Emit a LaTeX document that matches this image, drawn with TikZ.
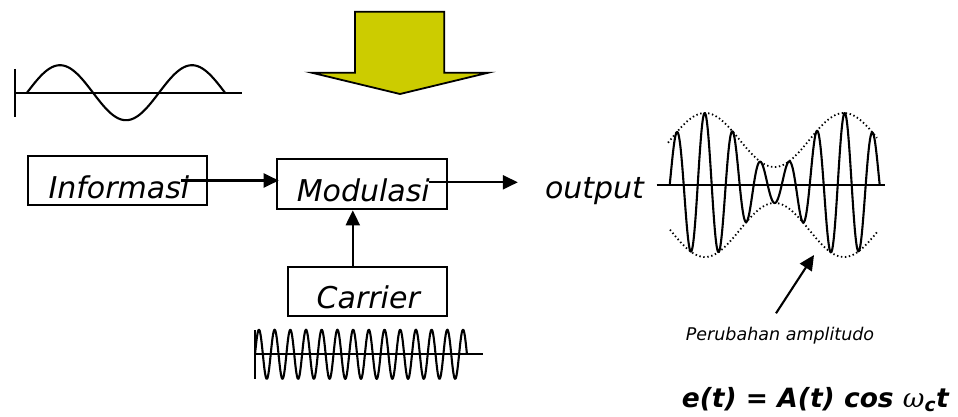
\documentclass[tikz,border=0pt]{standalone}
\usepackage{fontspec}
\setmainfont{DejaVu Sans}
\newfontfamily\omegafont{DejaVu Serif}
\usetikzlibrary{arrows.meta}
\definecolor{arrowyellow}{RGB}{204,204,0}
\begin{document}
\begin{tikzpicture}[x=1pt,y=-1pt,
  boxst/.style={draw,line width=2pt,inner sep=0pt},
  lbl/.style={inner sep=0pt,font=\fontsize{30}{32}\selectfont\itshape},
  arr/.style={line width=2.1pt,-{Triangle[length=15pt,width=14pt]}},
  wave/.style={line width=2.1pt,line join=round},
  env/.style={line width=1.8pt,dash pattern=on 1.4pt off 2.6pt}]
\useasboundingbox (0,0) rectangle (958,417);
% big yellow arrow
\draw[line width=1.8pt,fill=arrowyellow,line join=miter]
  (355,11.7) -- (444.3,11.7) -- (444.3,72.7) -- (488.3,72.7) -- (400,94)
  -- (311.7,72.7) -- (355,72.7) -- cycle;
% information sine wave
\draw[wave] (15,69) -- (15,117);
\draw[wave] (15,92.7) -- (241.7,92.7);
\draw[wave] plot[domain=27:225,samples=120,smooth] (\x,{92.7-27.5*sin((\x-27)/132*360)});
% boxes
\node[boxst,minimum width=179pt,minimum height=49pt] (infobox) at (117.8,180.5) {};
\node[lbl,anchor=base] (infotext) at (118.9,198.3) {Informasi};
\node[boxst,minimum width=170.6pt,minimum height=50pt] (modbox) at (362,184.3) {};
\node[lbl,anchor=base] (modtext) at (363.3,201.7) {Modulasi};
\node[boxst,minimum width=159pt,minimum height=49.3pt] (carbox) at (367.8,291.3) {};
\node[lbl,anchor=base] (cartext) at (368.3,308.3) {Carrier};
\node[lbl,anchor=base] (outtext) at (594.5,198) {output};
% connectors
\draw[arr] ([xshift=-27pt]infobox.east) -- ([xshift=3pt]infobox.east -| modbox.west);
\draw[arr] ([xshift=-19pt,yshift=2pt]modbox.east) -- ([xshift=-27pt,yshift=2pt]modbox.east -| outtext.west);
\draw[arr] ([xshift=-15pt]carbox.north) -- ([xshift=-15pt]carbox.north |- modbox.south);
% carrier wave
\draw[wave] (255,330) -- (255,379.3);
\draw[wave] (255,354.3) -- (483.3,354.3);
\draw[wave] plot[domain=255:467,samples=400,smooth] (\x,{354.3-24.6*sin((\x-255)/15.7*360)});
% AM wave
\draw[wave] (656.7,185) -- (885,185);
\draw[wave] plot[domain=669.7:879.7,samples=500,smooth]
  (\x,{185-(45+27*cos((\x-705)/139*360))*sin((\x-669.7)/28*360)});
\draw[env] plot[domain=668:877,samples=100,smooth] (\x,{185-(45+27*cos((\x-705)/139*360))});
\draw[env] plot[domain=670:878,samples=100,smooth] (\x,{185+(45+27*cos((\x-705)/139*360))});
% annotation
\coordinate (pfrom) at (776,313.3);
\coordinate (pto) at (814,255);
\draw[arr] (pfrom) -- (pto);
\node[inner sep=0pt,anchor=base,font=\fontsize{17.5}{19}\selectfont\itshape] (pertext) at (780,340) {Perubahan amplitudo};
\node[inner sep=0pt,anchor=base west,font=\fontsize{26.5}{28}\selectfont\bfseries\itshape] (eqtext) at (681.7,407.3)
  {e(t) = A(t) cos {\omegafont\mdseries ω}\textsubscript{c}t};
\end{tikzpicture}
\end{document}
